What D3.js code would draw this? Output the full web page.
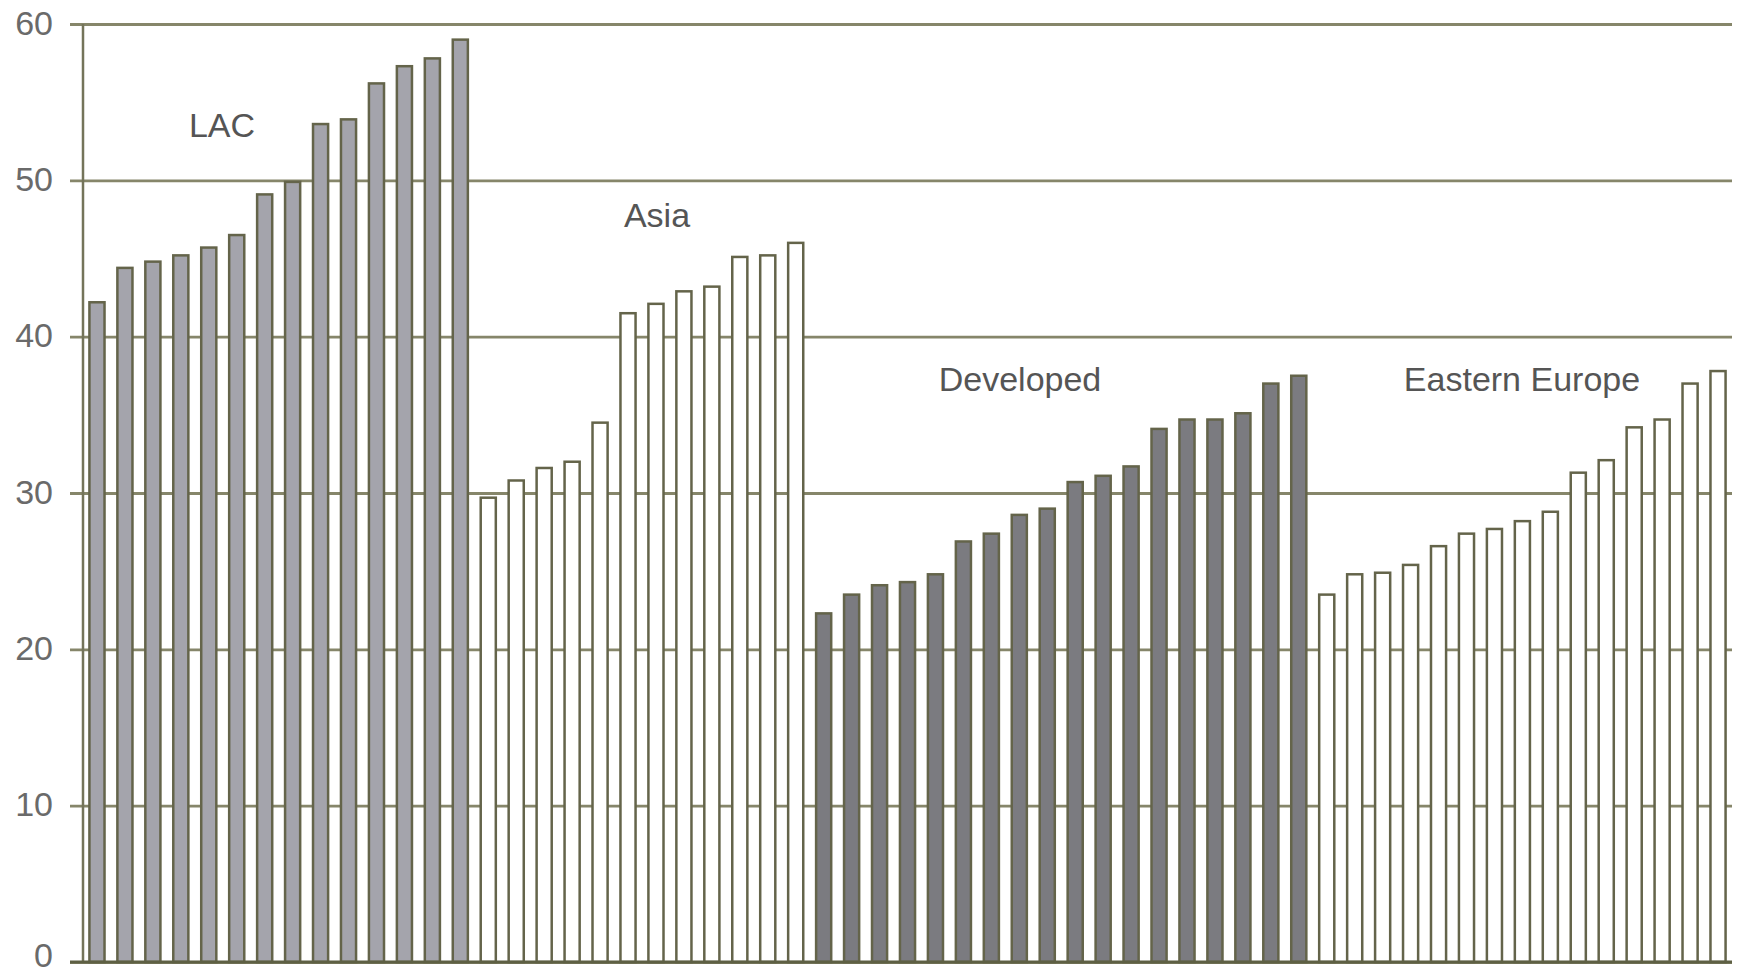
<!DOCTYPE html>
<html>
<head>
<meta charset="utf-8">
<script src="https://cdnjs.cloudflare.com/ajax/libs/d3/7.8.5/d3.min.js"></script>
<style>
	body { margin: 0; background: #fff; }
	svg { display: block; }
</style>
</head>
<body>
<div class="graph-box"></div>
<script>
// values, one array per region
var regions = ["LAC", "Asia", "Developed", "Eastern Europe"];
var lacValues = [42.2, 44.4, 44.8, 45.2, 45.7, 46.5, 49.1, 49.9, 53.6, 53.9, 56.2, 57.3, 57.8, 59.0];
var asiaValues = [29.7, 30.8, 31.6, 32.0, 34.5, 41.5, 42.1, 42.9, 43.2, 45.1, 45.2, 46.0];
var developedValues = [22.3, 23.5, 24.1, 24.3, 24.8, 26.9, 27.4, 28.6, 29.0, 30.7, 31.1, 31.7, 34.1, 34.7, 34.7, 35.1, 37.0, 37.5];
var easternValues = [23.5, 24.8, 24.9, 25.4, 26.6, 27.4, 27.7, 28.2, 28.8, 31.3, 32.1, 34.2, 34.7, 37.0, 37.8];
var yTicks = [0, 10, 20, 30, 40, 50, 60];

$ready();

function $ready() {
	var groups = [lacValues, asiaValues, developedValues, easternValues];
	var dataset = [];
	groups.forEach(function(vals, g) {
		vals.forEach(function(v, i) {
			dataset.push({ region: regions[g], group: g, value: v, key: g + "-" + i });
		});
	});
	barChart(dataset);
}

function barChart(dataset) {
	var width = 1741, height = 974;
	var left = 83, right = 1732, top = 24, bottom = 962;

	var svg = d3.select(".graph-box")
			.append("svg")
			.attr("width", width)
			.attr("height", height);

	var x = d3.scaleBand()
			.domain(dataset.map(function(d) { return d.key; }))
			.range([left, right])
			.paddingInner(0.46)
			.paddingOuter(0.23);

	var y = d3.scaleLinear().domain([0, 60]).range([bottom, top]);

	// gridlines + tick labels through a left axis
	var axis = svg.append("g")
			.attr("transform", "translate(" + left + ",0)")
			.call(d3.axisLeft(y).tickValues(yTicks).tickSize(-(right - left)).tickSizeOuter(0).tickPadding(30));
	axis.select(".domain").remove();
	axis.selectAll(".tick line")
			.attr("x1", -13)
			.attr("stroke", "#86866a")
			.attr("stroke-width", 2.8);
	axis.selectAll(".tick text")
			.attr("fill", "#6a6a6a")
			.attr("font-family", "Liberation Sans, Arial, sans-serif")
			.attr("font-size", 34)
			.attr("dy", function(d) { return d == 0 ? "0.12em" : "0.3em"; }); // keep the 0 inside the page

	// fills per region: grey, white, dark grey, white
	var fills = ["#a4a4ac", "#ffffff", "#7b7b80", "#ffffff"];

	svg.selectAll(".bar")
			.data(dataset)
			.enter()
			.append("rect")
			.attr("class", "bar")
			.attr("x", function(d) { return x(d.key); })
			.attr("width", x.bandwidth())
			.attr("y", function(d) { return y(d.value); })
			.attr("height", function(d) { return y(0) - y(d.value); })
			.attr("fill", function(d) { return fills[d.group]; })
			.attr("stroke", "#64644a")
			.attr("stroke-width", 2.5);

	// vertical axis line and baseline
	svg.append("line")
			.attr("x1", left).attr("x2", left)
			.attr("y1", y(60)).attr("y2", y(0))
			.attr("stroke", "#74745a")
			.attr("stroke-width", 2.5);
	svg.append("line")
			.attr("x1", left - 13).attr("x2", right)
			.attr("y1", y(0)).attr("y2", y(0))
			.attr("stroke", "#5e6044")
			.attr("stroke-width", 3);

	// region labels (x in pixels, y in data units)
	var labelPos = [[222, 52.8], [657, 47.0], [1020, 36.5], [1522, 36.5]];
	svg.selectAll(".region")
			.data(regions)
			.enter()
			.append("text")
			.attr("class", "region")
			.attr("x", function(d, i) { return labelPos[i][0]; })
			.attr("y", function(d, i) { return y(labelPos[i][1]); })
			.attr("text-anchor", "middle")
			.attr("fill", "#555555")
			.attr("font-family", "Liberation Sans, Arial, sans-serif")
			.attr("font-size", 34)
			.text(function(d) { return d; });
}
</script>
</body>
</html>
